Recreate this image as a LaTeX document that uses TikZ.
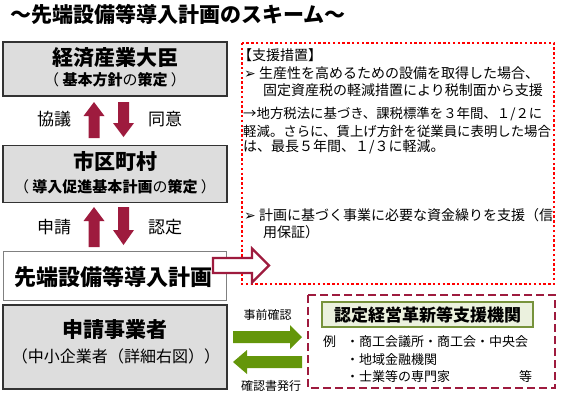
\documentclass[tikz,border=0pt]{standalone}
\usepackage{fontspec}
\setmainfont{Noto Sans CJK JP}
\newfontfamily\dejavu{DejaVu Sans}
\definecolor{crim}{RGB}{158,27,62}
\definecolor{grn}{RGB}{100,150,10}
\definecolor{boxgray}{RGB}{221,221,221}
\definecolor{lgreen}{RGB}{235,241,222}
\definecolor{dgreen}{RGB}{119,147,60}
\newcommand\fsz[1]{\fontsize{#1}{#1}\selectfont}
\begin{document}
\begin{tikzpicture}[x=1pt,y=-1pt,
  txt/.style={inner sep=0pt},
  graybox/.style={draw=black!80, line width=1.5pt, fill=boxgray, inner sep=0pt},
  whitebox/.style={draw=black!50, line width=0.8pt, fill=white, inner sep=0pt},
  blockarrow/.style={fill=crim},
  greenarrow/.style={fill=grn},
  redtxt/.style={txt, anchor=west, font=\fsz{14}},
  redtxtn/.style={txt, anchor=west, font=\fsz{13.4}},
  agtxt/.style={txt, anchor=west, font=\fsz{13}},
  side/.style={txt, font=\fsz{17}}]
\useasboundingbox (0,0) rectangle (567,402);

% title
\node[txt, anchor=west, font=\bfseries\fsz{21}] (title) at (10,14) {～先端設備等導入計画のスキーム～};

% boxes
\node[graybox, minimum width=224pt, minimum height=54pt] (meti) at (115,69) {};
\node[txt, font=\bfseries\fsz{21}] (meti1) at (115,58) {経済産業大臣};
\node[txt, font=\fsz{15}] (meti2) at (115,80) {（ {\bfseries 基本方針}の{\bfseries 策定} ）};

\node[graybox, minimum width=224pt, minimum height=57pt] (city) at (115,174) {};
\node[txt, font=\bfseries\fsz{21}] (city1) at (115,161) {市区町村};
\node[txt, font=\fsz{15}] (city2) at (115,187) {（ {\bfseries 導入促進基本計画}の{\bfseries 策定} ）};

\node[whitebox, minimum width=223pt, minimum height=49pt] (plan) at (114.5,275.5) {};
\node[txt, font=\bfseries\fsz{22}] (plan1) at (113,277) {先端設備等導入計画};

\node[graybox, minimum width=224pt, minimum height=84pt] (appl) at (115,347) {};
\node[txt, font=\bfseries\fsz{21}] (appl1) at (115,330) {申請事業者};
\node[txt, font=\fsz{16}] (appl2) at (116,356) {（中小企業者（詳細右図））};

% crimson block arrows
\fill[blockarrow] (88.5,138) -- (88.5,116) -- (83.5,116) -- (94,102) -- (104.5,116) -- (99.5,116) -- (99.5,138) -- cycle;
\fill[blockarrow] (118,102) -- (118,123) -- (113,123) -- (123.5,137) -- (134,123) -- (129,123) -- (129,102) -- cycle;
\fill[blockarrow] (88.5,247) -- (88.5,221) -- (83.5,221) -- (94,207) -- (104.5,221) -- (99.5,221) -- (99.5,247) -- cycle;
\fill[blockarrow] (118,207) -- (118,230) -- (113,230) -- (123.5,245) -- (134,230) -- (129,230) -- (129,207) -- cycle;

\node[side] (l1) at (54,119) {協議};
\node[side] (l2) at (165,119) {同意};
\node[side] (l3) at (54,227) {申請};
\node[side] (l4) at (165,227) {認定};

% support box
\draw[red, line width=2.5pt, dash pattern=on 2.4pt off 2.4pt] (242,43) rectangle (554,284);
\node[redtxt] (s0) at (238,55) {【支援措置】};
\node[redtxt] (s1) at (244,73) {{\dejavu ➢} 生産性を高めるための設備を取得した場合、};
\node[redtxt] (s2) at (263,90) {固定資産税の軽減措置により税制面から支援};
\node[redtxtn] (s3) at (243,114) {→地方税法に基づき、課税標準を３年間、１/２に};
\node[redtxtn] (s4) at (243,131) {軽減。さらに、賃上げ方針を従業員に表明した場合};
\node[redtxt] (s5) at (243,147) {は、最長５年間、１/３に軽減。};
\node[redtxt] (s6) at (244,215) {{\dejavu ➢} 計画に基づく事業に必要な資金繰りを支援（信};
\node[redtxt] (s7) at (263,232) {用保証）};

% hollow arrow
\draw[crim, line width=2.2pt, fill=white, line join=miter] (213,258) -- (252,258) -- (252,248.5) -- (269,265.5) -- (252,282.5) -- (252,273) -- (213,273) -- cycle;

% green arrows
\fill[greenarrow] (233,331) -- (290,331) -- (290,325) -- (302,337) -- (290,349) -- (290,343) -- (233,343) -- cycle;
\fill[greenarrow] (302,356) -- (247,356) -- (247,350) -- (233,362) -- (247,374) -- (247,368) -- (302,368) -- cycle;
\node[txt, font=\fsz{12}] (g1) at (267.5,315) {事前確認};
\node[txt, font=\fsz{12}] (g2) at (271,386) {確認書発行};

% agency box
\draw[crim, line width=2.2pt, dash pattern=on 8pt off 4pt] (308,295) rectangle (555,388);
\node[draw=dgreen, fill=lgreen, line width=1.5pt, minimum width=211pt, minimum height=25pt, inner sep=0pt] (agency) at (427.5,314.5) {};
\node[txt, font=\bfseries\fsz{17}] (agency1) at (427.5,315) {認定経営革新等支援機関};
\node[agtxt] (a0) at (323,342) {例};
\node[agtxt] (a1) at (346,342) {・商工会議所・商工会・中央会};
\node[agtxt] (a2) at (346,360) {・地域金融機関};
\node[agtxt] (a3) at (346,377) {・士業等の専門家};
\node[agtxt] (a4) at (519,377) {等};
\end{tikzpicture}
\end{document}
